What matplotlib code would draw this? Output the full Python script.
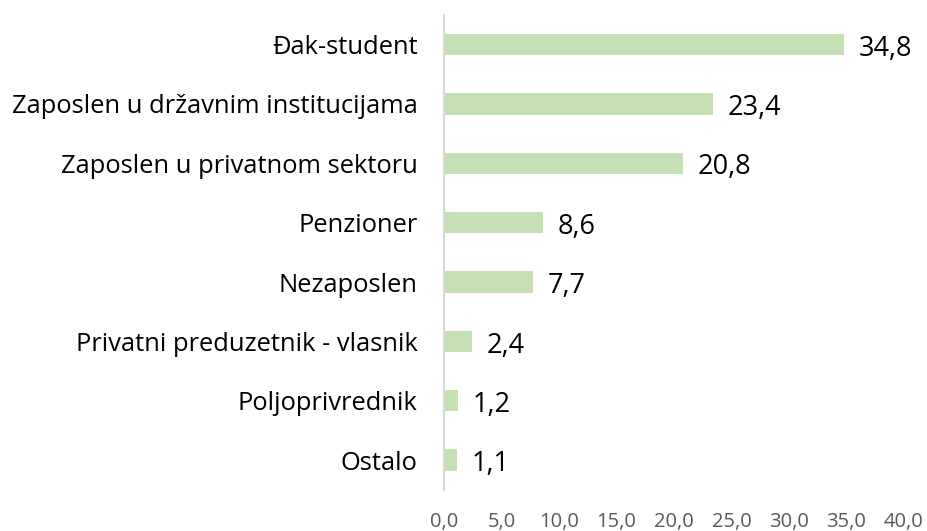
import matplotlib.pyplot as plt

categories = ["Đak-student", "Zaposlen u državnim institucijama", "Zaposlen u privatnom sektoru",
              "Penzioner", "Nezaposlen", "Privatni preduzetnik - vlasnik", "Poljoprivrednik", "Ostalo"]
values = [34.8, 23.4, 20.8, 8.6, 7.7, 2.4, 1.2, 1.1]
ticks = [0, 5, 10, 15, 20, 25, 30, 35, 40]

plt.rcParams['font.family'] = ['Open Sans', 'DejaVu Sans']

fig = plt.figure(figsize=(9.28, 5.31), dpi=100)
ax = fig.add_axes([0.4784, 0.0777, 0.4957, 0.8941])

y = list(range(len(categories)))
ax.barh(y, values, height=0.36, color='#C5E0B4')
for yi, v in zip(y, values):
    ax.text(v + 1.3, yi + 0.07, f"{v:.1f}".replace('.', ','), va='center', ha='left',
            fontsize=19.5, color='black')

ax.set_xlim(0, 40)
ax.set_ylim(7.5, -0.5)
ax.set_yticks(y)
ax.set_yticklabels(categories, fontsize=18.4)
ax.set_xticks(ticks)
ax.set_xticklabels([f"{t:.1f}".replace('.', ',') for t in ticks], fontsize=14.5, color='#595959')
ax.tick_params(axis='both', length=0)
ax.tick_params(axis='y', pad=19)
ax.tick_params(axis='x', pad=16)
for s in ['top', 'right', 'bottom']:
    ax.spines[s].set_visible(False)
ax.spines['left'].set_color('#D9D9D9')
ax.spines['left'].set_linewidth(1.5)

fig.savefig('out.png', dpi=100)
